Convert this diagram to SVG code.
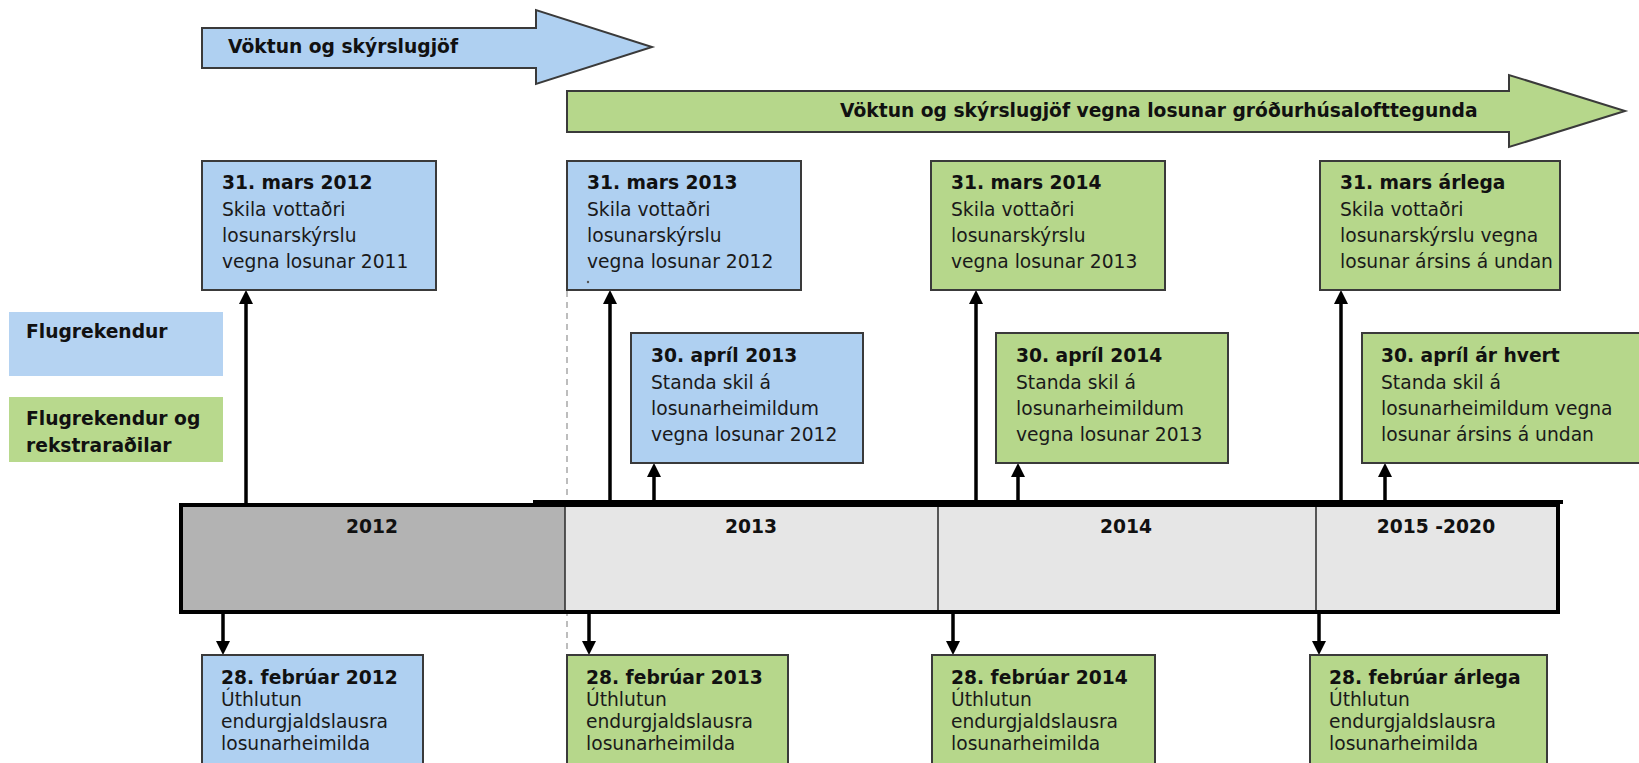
<svg xmlns="http://www.w3.org/2000/svg" width="1639" height="763" viewBox="0 0 1639 763">
<style>
.t{font-family:'DejaVu Sans',Verdana,sans-serif;font-size:18.7px;fill:#1a1a1a}
.b{font-weight:bold;fill:#111}
.blue{fill:#afd0f1;stroke:#3a3a3a;stroke-width:2}
.green{fill:#b6d78b;stroke:#3a3a3a;stroke-width:2}
.conn{stroke:#000;stroke-width:3.5;fill:none}
</style>
<defs>
<marker id="ah" viewBox="0 0 14 14" refX="2" refY="7" markerWidth="14" markerHeight="14" markerUnits="userSpaceOnUse" orient="auto">
<path d="M0,0 L14,7 L0,14 z" fill="#000"/>
</marker>
</defs>
<rect width="1639" height="763" fill="#fff"/>

<g id="arrow-blue">
<polygon class="blue" points="202,28 536,28 536,10 652,47 536,84 536,68 202,68"/>
<text class="t b" x="228" y="53">Vöktun og skýrslugjöf</text>
</g>
<g id="arrow-green">
<polygon class="green" points="567,91 1509,91 1509,75 1625,111 1509,147 1509,132 567,132"/>
<text class="t b" x="840" y="117">Vöktun og skýrslugjöf vegna losunar gróðurhúsalofttegunda</text>
</g>

<g id="legend-blue">
<rect x="9" y="312" width="214" height="64" fill="#b5d3f2"/>
<text class="t b" x="26" y="338">Flugrekendur</text>
</g>
<g id="legend-green">
<rect x="9" y="397" width="214" height="65" fill="#b8d98d"/>
<text class="t b" x="26" y="425">Flugrekendur og</text>
<text class="t b" x="26" y="452">rekstraraðilar</text>
</g>

<line x1="567" y1="291" x2="567" y2="763" stroke="#9a9a9a" stroke-width="1.3" stroke-dasharray="6 5"/>

<g id="timeline">
<rect x="181" y="505" width="384" height="107" fill="#b3b3b3"/>
<rect x="565" y="505" width="993" height="107" fill="#e6e6e6"/>
<line x1="565" y1="505" x2="565" y2="612" stroke="#333" stroke-width="1.6"/>
<line x1="938" y1="505" x2="938" y2="612" stroke="#333" stroke-width="1.6"/>
<line x1="1316" y1="505" x2="1316" y2="612" stroke="#333" stroke-width="1.6"/>
<rect x="181" y="505" width="1377" height="107" fill="none" stroke="#000" stroke-width="4"/>
<line x1="533" y1="502" x2="1563" y2="502" stroke="#000" stroke-width="4"/>
<text class="t b" x="372" y="533" text-anchor="middle">2012</text>
<text class="t b" x="751" y="533" text-anchor="middle">2013</text>
<text class="t b" x="1126" y="533" text-anchor="middle">2014</text>
<text class="t b" x="1436" y="533" text-anchor="middle">2015 -2020</text>
</g>

<g id="connectors">
<line class="conn" x1="246" y1="503" x2="246" y2="302" marker-end="url(#ah)"/>
<line class="conn" x1="610" y1="503" x2="610" y2="302" marker-end="url(#ah)"/>
<line class="conn" x1="654" y1="503" x2="654" y2="475" marker-end="url(#ah)"/>
<line class="conn" x1="976" y1="503" x2="976" y2="302" marker-end="url(#ah)"/>
<line class="conn" x1="1018" y1="503" x2="1018" y2="475" marker-end="url(#ah)"/>
<line class="conn" x1="1341" y1="503" x2="1341" y2="302" marker-end="url(#ah)"/>
<line class="conn" x1="1385" y1="503" x2="1385" y2="475" marker-end="url(#ah)"/>
<line class="conn" x1="223" y1="613" x2="223" y2="643" marker-end="url(#ah)"/>
<line class="conn" x1="589" y1="613" x2="589" y2="643" marker-end="url(#ah)"/>
<line class="conn" x1="953" y1="613" x2="953" y2="643" marker-end="url(#ah)"/>
<line class="conn" x1="1319" y1="613" x2="1319" y2="643" marker-end="url(#ah)"/>
</g>

<g id="box-mars-2012">
<rect class="blue" x="202" y="161" width="234" height="129"/>
<text class="t b" x="222" y="189">31. mars 2012</text>
<text class="t" x="222" y="216">Skila vottaðri</text>
<text class="t" x="222" y="242">losunarskýrslu</text>
<text class="t" x="222" y="268">vegna losunar 2011</text>
</g>
<g id="box-mars-2013">
<rect class="blue" x="567" y="161" width="234" height="129"/>
<text class="t b" x="587" y="189">31. mars 2013</text>
<text class="t" x="587" y="216">Skila vottaðri</text>
<text class="t" x="587" y="242">losunarskýrslu</text>
<text class="t" x="587" y="268">vegna losunar 2012</text>
<circle cx="588" cy="282" r="1.2" fill="#555"/>
</g>
<g id="box-mars-2014">
<rect class="green" x="931" y="161" width="234" height="129"/>
<text class="t b" x="951" y="189">31. mars 2014</text>
<text class="t" x="951" y="216">Skila vottaðri</text>
<text class="t" x="951" y="242">losunarskýrslu</text>
<text class="t" x="951" y="268">vegna losunar 2013</text>
</g>
<g id="box-mars-arlega">
<rect class="green" x="1320" y="161" width="240" height="129"/>
<text class="t b" x="1340" y="189">31. mars árlega</text>
<text class="t" x="1340" y="216">Skila vottaðri</text>
<text class="t" x="1340" y="242">losunarskýrslu vegna</text>
<text class="t" x="1340" y="268">losunar ársins á undan</text>
</g>

<g id="box-april-2013">
<rect class="blue" x="631" y="333" width="232" height="130"/>
<text class="t b" x="651" y="362">30. apríl 2013</text>
<text class="t" x="651" y="389">Standa skil á</text>
<text class="t" x="651" y="415">losunarheimildum</text>
<text class="t" x="651" y="441">vegna losunar 2012</text>
</g>
<g id="box-april-2014">
<rect class="green" x="996" y="333" width="232" height="130"/>
<text class="t b" x="1016" y="362">30. apríl 2014</text>
<text class="t" x="1016" y="389">Standa skil á</text>
<text class="t" x="1016" y="415">losunarheimildum</text>
<text class="t" x="1016" y="441">vegna losunar 2013</text>
</g>
<g id="box-april-arhvert">
<rect class="green" x="1362" y="333" width="290" height="130"/>
<text class="t b" x="1381" y="362">30. apríl ár hvert</text>
<text class="t" x="1381" y="389">Standa skil á</text>
<text class="t" x="1381" y="415">losunarheimildum vegna</text>
<text class="t" x="1381" y="441">losunar ársins á undan</text>
</g>

<g id="box-feb-2012">
<rect class="blue" x="202" y="655" width="221" height="120"/>
<text class="t b" x="221" y="684">28. febrúar 2012</text>
<text class="t" x="221" y="706">Úthlutun</text>
<text class="t" x="221" y="728">endurgjaldslausra</text>
<text class="t" x="221" y="750">losunarheimilda</text>
</g>
<g id="box-feb-2013">
<rect class="green" x="567" y="655" width="221" height="120"/>
<text class="t b" x="586" y="684">28. febrúar 2013</text>
<text class="t" x="586" y="706">Úthlutun</text>
<text class="t" x="586" y="728">endurgjaldslausra</text>
<text class="t" x="586" y="750">losunarheimilda</text>
</g>
<g id="box-feb-2014">
<rect class="green" x="932" y="655" width="223" height="120"/>
<text class="t b" x="951" y="684">28. febrúar 2014</text>
<text class="t" x="951" y="706">Úthlutun</text>
<text class="t" x="951" y="728">endurgjaldslausra</text>
<text class="t" x="951" y="750">losunarheimilda</text>
</g>
<g id="box-feb-arlega">
<rect class="green" x="1310" y="655" width="237" height="120"/>
<text class="t b" x="1329" y="684">28. febrúar árlega</text>
<text class="t" x="1329" y="706">Úthlutun</text>
<text class="t" x="1329" y="728">endurgjaldslausra</text>
<text class="t" x="1329" y="750">losunarheimilda</text>
</g>
</svg>
